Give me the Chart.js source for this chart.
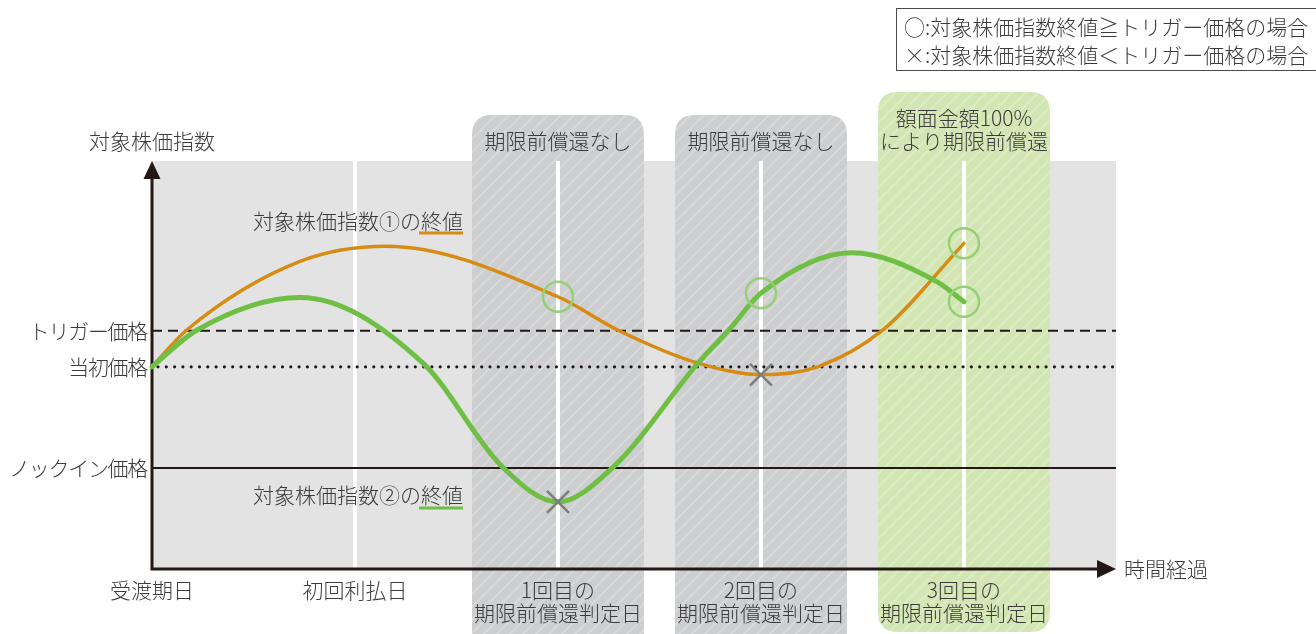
<!DOCTYPE html>
<html lang="ja">
<head>
<meta charset="utf-8">
<title>期限前償還のイメージ</title>
<script src="https://cdn.jsdelivr.net/npm/chart.js@4.4.1/dist/chart.umd.min.js"></script>
<style>
  html, body { margin: 0; padding: 0; background: #fff; }
  #wrap { position: relative; width: 1316px; height: 634px; }
</style>
</head>
<body>
<div id="wrap"><canvas id="chart"></canvas></div>
<script>
// 時間軸（判定日など）
const dateTicks = [0, 1, 2, 3, 4];
const dateLabels = ['受渡期日', '初回利払日', '1回目の\n期限前償還判定日', '2回目の\n期限前償還判定日', '3回目の\n期限前償還判定日'];

// 期限前償還判定日の帯
const bandDates = [2, 3, 4];
const bandLabels = ['期限前償還なし', '期限前償還なし', '額面金額100%\nにより期限前償還'];
const bandRedeemed = [false, false, true];

// 価格水準
const levelLabels = ['トリガー価格', '当初価格', 'ノックイン価格'];
const levelValues = [105, 100, 86];

// 対象株価指数①の終値（イメージ）
const index1Time  = [0, 0.171, 0.729, 1.156, 2.0, 2.294, 2.69, 3.0, 3.279, 3.601, 4.0];
const index1Value = [100, 105.1, 114.6, 116.7, 109.7, 105.1, 100.5, 98.9, 100.0, 105.1, 117.1];

// 対象株価指数②の終値（イメージ）
const index2Time  = [0, 0.222, 0.729, 1.335, 1.724, 2.0, 2.275, 2.69, 2.842, 3.0, 3.448, 3.866, 4.0];
const index2Value = [100, 105.1, 109.6, 100.5, 86.2, 81.3, 86.2, 100.5, 105.1, 110.2, 115.8, 111.8, 109.0];

// 判定日の印（○：トリガー以上、×：トリガー未満）
const circleTime  = [2, 3, 4, 4];
const circleValue = [109.7, 110.2, 117.1, 109.0];
const crossTime   = [2, 3];
const crossValue  = [81.3, 98.9];

// 凡例
const noteLines = ['○:対象株価指数終値≧トリガー価格の場合', '×:対象株価指数終値＜トリガー価格の場合'];

const FONT = '300 21px "Noto Sans CJK JP", "Noto Sans CJK SC", sans-serif';
const TEXT = '#3b3b3b';
const AXIS = '#231815';
const ORANGE = '#D68B12';
const GREEN = '#6FBF44';

function toPoints(xs, ys) {
    return xs.map((x, i) => ({ x: x, y: ys[i] }));
}

function stripePattern(ctx, base) {
    const c = document.createElement('canvas');
    c.width = 13; c.height = 13;
    const g = c.getContext('2d');
    g.fillStyle = base;
    g.fillRect(0, 0, 13, 13);
    g.strokeStyle = 'rgba(255,255,255,0.22)';
    g.lineWidth = 2.2;
    g.beginPath();
    g.moveTo(-2, 15); g.lineTo(15, -2);
    g.moveTo(-2, 2); g.lineTo(2, -2);
    g.moveTo(11, 15); g.lineTo(15, 11);
    g.stroke();
    return ctx.createPattern(c, 'repeat');
}

function roundRect(ctx, x, y, w, h, r) {
    ctx.beginPath();
    ctx.moveTo(x + r, y);
    ctx.lineTo(x + w - r, y);
    ctx.quadraticCurveTo(x + w, y, x + w, y + r);
    ctx.lineTo(x + w, y + h - r);
    ctx.quadraticCurveTo(x + w, y + h, x + w - r, y + h);
    ctx.lineTo(x + r, y + h);
    ctx.quadraticCurveTo(x, y + h, x, y + h - r);
    ctx.lineTo(x, y + r);
    ctx.quadraticCurveTo(x, y, x + r, y);
    ctx.closePath();
}

function drawLines(ctx, text, x, y, lh) {
    text.split('\n').forEach((t, i) => ctx.fillText(t, x, y + i * lh));
}

// 背景・帯・水準線・軸・文字を描くプラグイン
const schemePlugin = {
    id: 'scheme',
    beforeDatasetsDraw(chart) {
        const { ctx, chartArea: a, scales: { x, y } } = chart;
        ctx.save();

        // グレーの背景
        ctx.fillStyle = '#E3E3E3';
        ctx.fillRect(a.left, a.top, a.right - a.left, a.bottom - a.top);

        // 判定日の帯
        const grayPat = stripePattern(ctx, '#CDCED0');
        const greenPat = stripePattern(ctx, '#D2E6B3');
        ctx.font = FONT;
        ctx.textAlign = 'center';
        ctx.textBaseline = 'middle';
        bandDates.forEach((d, i) => {
            const cx = x.getPixelForValue(d);
            const lines = bandLabels[i].split('\n').length;
            const top = 115 - (lines - 1) * 23;
            ctx.fillStyle = bandRedeemed[i] ? greenPat : grayPat;
            roundRect(ctx, cx - 86, top, 172, 540, 20);
            ctx.fill();
            ctx.fillStyle = TEXT;
            drawLines(ctx, bandLabels[i], cx, 141 - (lines - 1) * 23, 23);
        });

        // 白い縦線
        ctx.strokeStyle = '#FFFFFF';
        ctx.lineWidth = 4;
        dateTicks.slice(1).forEach(d => {
            const px = x.getPixelForValue(d);
            ctx.beginPath();
            ctx.moveTo(px, a.top);
            ctx.lineTo(px, a.bottom);
            ctx.stroke();
        });

        // 水準線
        const styles = [
            { dash: [10, 6], width: 2, cap: 'butt' },
            { dash: [0, 8.3], width: 3.2, cap: 'round' },
            { dash: [], width: 2, cap: 'butt' }
        ];
        levelValues.forEach((v, i) => {
            const py = y.getPixelForValue(v);
            ctx.strokeStyle = AXIS;
            ctx.lineWidth = styles[i].width;
            ctx.lineCap = styles[i].cap;
            ctx.setLineDash(styles[i].dash);
            ctx.beginPath();
            ctx.moveTo(a.left + (i === 1 ? 6 : 0), py);
            ctx.lineTo(a.right, py);
            ctx.stroke();
            ctx.setLineDash([]);
            ctx.fillStyle = TEXT;
            ctx.textAlign = 'right';
            ctx.letterSpacing = '-1.3px';
            ctx.fillText(levelLabels[i], a.left - 5, py);
            ctx.letterSpacing = '0px';
        });
        ctx.lineCap = 'butt';

        // 軸と矢印
        ctx.strokeStyle = AXIS;
        ctx.fillStyle = AXIS;
        ctx.lineWidth = 3;
        ctx.beginPath();
        ctx.moveTo(a.left, a.top + 16);
        ctx.lineTo(a.left, a.bottom);
        ctx.lineTo(a.right - 18, a.bottom);
        ctx.stroke();
        ctx.beginPath();
        ctx.moveTo(a.left, a.top);
        ctx.lineTo(a.left - 8.5, a.top + 18);
        ctx.lineTo(a.left + 8.5, a.top + 18);
        ctx.closePath();
        ctx.fill();
        ctx.beginPath();
        ctx.moveTo(a.right, a.bottom);
        ctx.lineTo(a.right - 19, a.bottom - 9);
        ctx.lineTo(a.right - 19, a.bottom + 9);
        ctx.closePath();
        ctx.fill();

        // 軸タイトル
        ctx.fillStyle = TEXT;
        ctx.textAlign = 'center';
        ctx.fillText('対象株価指数', a.left, 141);
        ctx.textAlign = 'left';
        ctx.fillText('時間経過', a.right + 8, a.bottom);

        // 時間軸のラベル
        ctx.textAlign = 'center';
        dateTicks.forEach((d, i) => {
            drawLines(ctx, dateLabels[i], x.getPixelForValue(d), 590, 23);
        });

        // 系列の注記
        ctx.textAlign = 'right';
        ctx.fillText('対象株価指数①の終値', 463, 221);
        ctx.fillText('対象株価指数②の終値', 463, 495);
        ctx.lineWidth = 3;
        ctx.strokeStyle = ORANGE;
        ctx.beginPath(); ctx.moveTo(419, 233); ctx.lineTo(463, 233); ctx.stroke();
        ctx.strokeStyle = GREEN;
        ctx.beginPath(); ctx.moveTo(419, 508); ctx.lineTo(463, 508); ctx.stroke();

        // 凡例の枠
        ctx.strokeStyle = '#4a4a4a';
        ctx.lineWidth = 1;
        ctx.strokeRect(896.5, 8.5, 430, 62);
        ctx.textAlign = 'left';
        ctx.fillStyle = TEXT;
        noteLines.forEach((t, i) => ctx.fillText(t, 904, 27 + i * 28));

        ctx.restore();
    }
};

function makeChart() {
    const ctx = document.getElementById('chart').getContext('2d');
    new Chart(ctx, {
        type: 'line',
        data: {
            datasets: [
                {
                    label: '○',
                    data: toPoints(circleTime, circleValue),
                    showLine: false,
                    pointStyle: 'circle',
                    pointRadius: 15,
                    pointBorderWidth: 2.5,
                    pointBorderColor: '#97CF76',
                    pointBackgroundColor: 'rgba(0,0,0,0)',
                    clip: false
                },
                {
                    label: '×',
                    data: toPoints(crossTime, crossValue),
                    showLine: false,
                    pointStyle: 'crossRot',
                    pointRadius: 15.5,
                    pointBorderWidth: 2.5,
                    pointBorderColor: '#7D7D7D',
                    clip: false
                },
                {
                    label: '対象株価指数②の終値',
                    data: toPoints(index2Time, index2Value),
                    borderColor: GREEN,
                    borderWidth: 5,
                    pointRadius: 0,
                    cubicInterpolationMode: 'monotone',
                    borderCapStyle: 'round',
                    clip: false
                },
                {
                    label: '対象株価指数①の終値',
                    data: toPoints(index1Time, index1Value),
                    borderColor: ORANGE,
                    borderWidth: 3.5,
                    pointRadius: 0,
                    cubicInterpolationMode: 'monotone',
                    borderCapStyle: 'round',
                    clip: false
                }
            ]
        },
        options: {
            responsive: true,
            maintainAspectRatio: false,
            animation: false,
            events: [],
            layout: { padding: { left: 152, right: 200, top: 161, bottom: 65 } },
            scales: {
                x: { type: 'linear', min: 0, max: 4.749, display: false },
                y: { type: 'linear', min: 72, max: 128.5, display: false }
            },
            plugins: {
                legend: { display: false },
                tooltip: { enabled: false }
            }
        },
        plugins: [schemePlugin]
    });
}

document.fonts.load(FONT).then(makeChart, makeChart);
</script>
</body>
</html>
